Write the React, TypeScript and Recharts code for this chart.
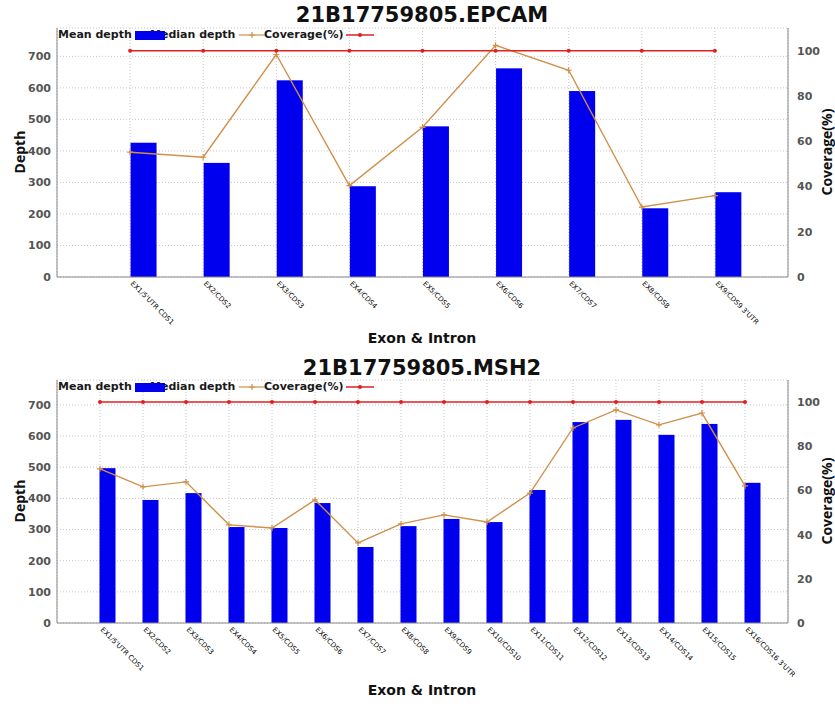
import { ComposedChart, Bar, Line, XAxis, YAxis, CartesianGrid, Legend } from 'recharts';

const FONT = '"DejaVu Sans", sans-serif';
const BLUE = '#0000ee';
const ORANGE = '#d0904a';
const RED = '#e02020';

const epcamCategories = ["EX1/5'UTR CDS1", 'EX2/CDS2', 'EX3/CDS3', 'EX4/CDS4', 'EX5/CDS5', 'EX6/CDS6', 'EX7/CDS7', 'EX8/CDS8', "EX9/CDS9 3'UTR"];
const epcamMean = [426, 362, 624, 288, 478, 662, 590, 218, 269];
const epcamMedian = [396, 380, 706, 290, 475, 735, 656, 222, 258];
const epcamCoverage = [100, 100, 100, 100, 100, 100, 100, 100, 100];

const msh2Categories = ["EX1/5'UTR CDS1", 'EX2/CDS2', 'EX3/CDS3', 'EX4/CDS4', 'EX5/CDS5', 'EX6/CDS6', 'EX7/CDS7', 'EX8/CDS8', 'EX9/CDS9', 'EX10/CDS10', 'EX11/CDS11', 'EX12/CDS12', 'EX13/CDS13', 'EX14/CDS14', 'EX15/CDS15', "EX16/CDS16 3'UTR"];
const msh2Mean = [497, 395, 417, 308, 305, 385, 244, 311, 334, 324, 427, 645, 652, 604, 639, 450];
const msh2Median = [495, 437, 453, 315, 305, 395, 257, 318, 347, 324, 417, 626, 684, 636, 674, 440];
const msh2Coverage = [100, 100, 100, 100, 100, 100, 100, 100, 100, 100, 100, 100, 100, 100, 100, 100];

const depthTicks = [0, 100, 200, 300, 400, 500, 600, 700];
const coverageTicks = [0, 20, 40, 60, 80, 100];

function PlusDot(props: any) {
    const { cx, cy, index } = props;
    if (cx == null || cy == null) return <g key={index} />;
    return <path key={index} d={`M${cx - 3},${cy}h6M${cx},${cy - 3}v6`} stroke={ORANGE} strokeWidth={1.2} />;
}

function ShiftedBar(props: any) {
    const { x, y, width, height, fill } = props;
    if (!height || height <= 0) return <g />;
    return <rect x={x + width / 2} y={y} width={width} height={height} fill={fill} />;
}

function makeXTick(cats: string[]) {
    return function XTick(props: any) {
        const { x, y, payload } = props;
        const label = cats[payload.value - 1];
        if (!label) return <g />;
        const tx = x;
        const ty = y + 4;
        return (
            <text x={tx} y={ty} transform={`rotate(45 ${tx} ${ty})`} fontSize={7} fill="#000" fontFamily={FONT}>
                {label}
            </text>
        );
    };
}

function ChartLegend() {
    const text: React.CSSProperties = { position: 'absolute', top: 0, fontFamily: FONT, fontWeight: 'bold', fontSize: 11, color: '#1a1a1a', lineHeight: '14px', whiteSpace: 'nowrap' };
    return (
        <div style={{ position: 'relative', width: 330, height: 14 }}>
            <span style={{ ...text, left: 8 }}>Mean depth</span>
            <span style={{ ...text, left: 100 }}>Median depth</span>
            <div style={{ position: 'absolute', left: 85, top: 3, width: 30, height: 9, background: BLUE }} />
            <svg style={{ position: 'absolute', left: 189, top: 0 }} width={26} height={14}>
                <line x1={0} y1={7} x2={26} y2={7} stroke={ORANGE} strokeWidth={1.2} />
                <path d="M10,7h6M13,4v6" stroke={ORANGE} strokeWidth={1.2} />
            </svg>
            <span style={{ ...text, left: 214 }}>Coverage(%)</span>
            <svg style={{ position: 'absolute', left: 296, top: 0 }} width={28} height={14}>
                <line x1={0} y1={7} x2={28} y2={7} stroke={RED} strokeWidth={1.5} />
                <circle cx={14} cy={7} r={2} fill={RED} />
            </svg>
        </div>
    );
}

interface GeneChartProps {
    categories: string[];
    mean: number[];
    median: number[];
    coverage: number[];
    depthMax: number;
    height: number;
    barSize: number;
}

function GeneChart({ categories, mean, median, coverage, depthMax, height, barSize }: GeneChartProps) {
    const data = categories.map((c, i) => ({
        pos: i + 1,
        cat: c,
        mean: mean[i],
        median: median[i],
        coverage: coverage[i],
    }));
    const n = categories.length;
    const xTicks = data.map((d) => d.pos);

    return (
        <ComposedChart width={835} height={height} data={data} margin={{ top: 28, right: 7, bottom: 8, left: 12 }}>
            <CartesianGrid yAxisId="left" stroke="#c8c8c8" strokeDasharray="1 2" />
            <XAxis
                dataKey="pos"
                type="number"
                domain={[0, n + 1]}
                ticks={xTicks}
                interval={0}
                height={60}
                tickLine={false}
                tickSize={0}
                tickMargin={3}
                axisLine={{ stroke: '#888' }}
                tick={makeXTick(categories)}
            />
            <XAxis xAxisId="top" orientation="top" type="number" domain={[0, n + 1]} height={0} tick={false} tickLine={false} axisLine={{ stroke: '#888' }} />
            <YAxis
                yAxisId="left"
                domain={[0, depthMax]}
                ticks={depthTicks}
                width={45}
                tickLine={false}
                tickSize={0}
                tickMargin={6}
                axisLine={{ stroke: '#888' }}
                tick={{ fontSize: 11, fill: '#555', fontFamily: FONT, fontWeight: 'bold' }}
            />
            <YAxis
                yAxisId="right"
                orientation="right"
                domain={[0, 110]}
                ticks={coverageTicks}
                width={40}
                tickLine={false}
                tickSize={0}
                tickMargin={9}
                axisLine={{ stroke: '#888' }}
                tick={{ fontSize: 11, fill: '#555', fontFamily: FONT, fontWeight: 'bold', textAnchor: 'start' }}
            />
            <Legend content={<ChartLegend />} layout="horizontal" verticalAlign="middle" align="center" wrapperStyle={{ top: 28, left: 50, width: 340 }} />
            <Bar yAxisId="left" dataKey="mean" name="Mean depth" fill={BLUE} barSize={barSize} shape={<ShiftedBar />} isAnimationActive={false} />
            <Line yAxisId="left" dataKey="median" name="Median depth" type="linear" stroke={ORANGE} strokeWidth={1.4} dot={PlusDot} activeDot={false} isAnimationActive={false} />
            <Line yAxisId="right" dataKey="coverage" name="Coverage(%)" type="linear" stroke={RED} strokeWidth={1.5} dot={{ r: 2, fill: RED, stroke: RED, strokeWidth: 0 }} activeDot={false} isAnimationActive={false} />
        </ComposedChart>
    );
}

const titleStyle = { fontFamily: FONT, fontWeight: 'bold' as const, fill: '#111' };
const axisTitleStyle = { fontFamily: '"Open Sans", sans-serif', fontWeight: 'bold' as const, fontSize: 14, fill: '#111' };

export default function App() {
    return (
        <div style={{ position: 'absolute', left: 0, top: 0, width: 835, height: 704, background: '#fff' }}>
            <svg style={{ position: 'absolute', left: 0, top: 0 }} width={835} height={704}>
                <text x={422} y={22} textAnchor="middle" fontSize={21} {...titleStyle}>21B17759805.EPCAM</text>
                <text x={422} y={343} textAnchor="middle" fontSize={14} {...titleStyle}>Exon &amp; Intron</text>
                <text x={25} y={152} textAnchor="middle" transform="rotate(-90 25 152)" {...axisTitleStyle}>Depth</text>
                <text x={832} y={152} textAnchor="middle" transform="rotate(-90 832 152)" {...axisTitleStyle}>Coverage(%)</text>

                <text x={422} y={375} textAnchor="middle" fontSize={21} {...titleStyle}>21B17759805.MSH2</text>
                <text x={422} y={695} textAnchor="middle" fontSize={14} {...titleStyle}>Exon &amp; Intron</text>
                <text x={25} y={501} textAnchor="middle" transform="rotate(-90 25 501)" {...axisTitleStyle}>Depth</text>
                <text x={832} y={501} textAnchor="middle" transform="rotate(-90 832 501)" {...axisTitleStyle}>Coverage(%)</text>
            </svg>
            <div style={{ position: 'absolute', left: 0, top: 0 }}>
                <GeneChart categories={epcamCategories} mean={epcamMean} median={epcamMedian} coverage={epcamCoverage} depthMax={790} height={345} barSize={26} />
            </div>
            <div style={{ position: 'absolute', left: 0, top: 352 }}>
                <GeneChart categories={msh2Categories} mean={msh2Mean} median={msh2Median} coverage={msh2Coverage} depthMax={780} height={339} barSize={16} />
            </div>
        </div>
    );
}
